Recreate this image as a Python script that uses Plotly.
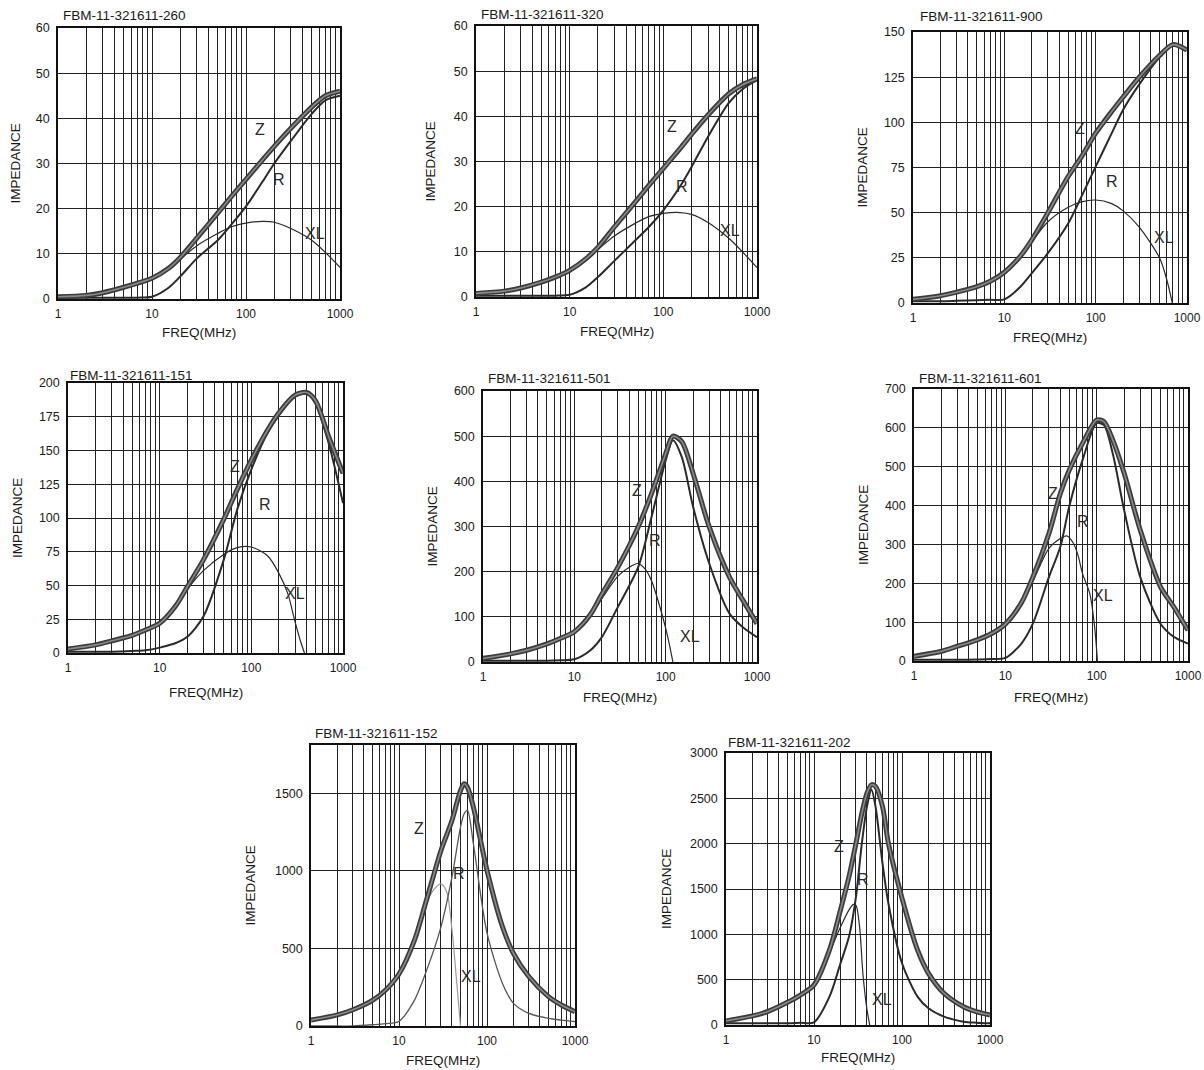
import math
import plotly.graph_objects as go

W, H = 1204, 1070

# ------------------------------------------------------------------ data
TITLES = ["FBM-11-321611-260", "FBM-11-321611-320", "FBM-11-321611-900",
          "FBM-11-321611-151", "FBM-11-321611-501", "FBM-11-321611-601",
          "FBM-11-321611-152", "FBM-11-321611-202"]

# 260
F_260 = [1, 2, 3, 5, 7, 10, 15, 20, 30, 50, 70, 100, 150, 200, 300, 500, 700, 1000]
Z_260 = [0.5, 0.8, 1.4, 2.6, 3.5, 4.6, 6.8, 9.2, 13.5, 19.0, 22.7, 26.5, 30.8, 33.8, 37.8, 42.5, 45.0, 46.0]
R_260 = [0.3, 0.3, 0.3, 0.3, 0.3, 0.5, 2.5, 5.0, 9.0, 13.0, 16.5, 20.5, 26.0, 30.0, 35.0, 41.0, 44.0, 45.0]
FXL_260 = F_260
XL_260 = [0.5, 0.8, 1.4, 2.6, 3.5, 4.5, 6.7, 8.8, 11.8, 14.5, 16.0, 16.8, 17.2, 17.0, 15.6, 13.0, 10.3, 7.0]

# 320
F_320 = [1, 2, 3, 5, 7, 10, 15, 20, 30, 50, 70, 100, 150, 200, 300, 500, 700, 1000]
Z_320 = [0.8, 1.3, 2.0, 3.3, 4.4, 5.9, 8.5, 11.0, 15.5, 21.0, 24.7, 28.5, 32.8, 36.0, 40.3, 45.0, 47.0, 48.3]
R_320 = [0.3, 0.3, 0.3, 0.3, 0.3, 0.5, 2.2, 4.4, 8.0, 12.5, 15.5, 19.2, 24.4, 28.8, 35.5, 43.0, 46.0, 48.0]
FXL_320 = F_320
XL_320 = [0.8, 1.3, 2.0, 3.3, 4.4, 5.8, 8.2, 10.5, 13.5, 16.3, 17.8, 18.5, 18.7, 18.3, 16.5, 13.0, 10.0, 6.5]

# 900
F_900 = [1, 2, 3, 5, 7, 10, 15, 20, 30, 50, 70, 100, 150, 200, 300, 500, 700, 1000]
Z_900 = [2, 4, 6, 9, 12, 17, 26, 35, 50, 70, 81, 94, 106, 114, 125, 137, 143, 140]
R_900 = [1, 1, 1.2, 1.5, 1.8, 2, 9, 16.5, 27.6, 44, 59, 75.5, 94, 107, 121, 136, 143, 140]
FXL_900 = [1, 2, 3, 5, 7, 10, 15, 20, 30, 50, 70, 100, 150, 200, 300, 500, 600, 690]
XL_900 = [2, 4, 6, 9, 12, 17, 26, 34, 45, 53, 56, 57, 55, 51, 42, 25, 13, 0]

# 151
F_151 = [1, 2, 3, 5, 7, 10, 15, 20, 30, 50, 70, 100, 150, 200, 300, 400, 500, 700, 1000]
Z_151 = [3, 6, 9, 13, 17, 22, 35, 49, 69, 99, 121, 143, 165, 178, 191, 193, 187, 160, 133]
R_151 = [1, 1, 1, 1.5, 2, 4, 7.4, 12, 27, 69, 106, 136, 163, 176, 190, 192, 185, 155, 111]
FXL_151 = [1, 2, 3, 5, 7, 10, 15, 20, 30, 50, 70, 100, 150, 200, 250, 300, 350, 380]
XL_151 = [3, 6, 9, 13, 17, 22, 34, 47, 61, 73, 78, 78.5, 72, 59, 44, 23, 7, 0]

# 501
F_501 = [1, 2, 3, 5, 7, 10, 15, 20, 30, 50, 70, 100, 120, 150, 200, 300, 500, 700, 1000]
Z_501 = [8, 18, 26, 40, 52, 67, 105, 150, 210, 299, 373, 461, 500, 488, 417, 299, 188, 137, 85]
R_501 = [3, 3, 3, 3, 4, 6, 26, 55, 122, 210, 321, 446, 491, 454, 343, 218, 107, 77, 55]
FXL_501 = [1, 2, 3, 5, 7, 10, 15, 20, 30, 40, 50, 60, 70, 80, 100, 110, 120]
XL_501 = [8, 18, 26, 40, 52, 66, 100, 140, 190, 210, 218, 205, 180, 145, 75, 38, 0]

# 601
F_601 = [1, 2, 3, 5, 7, 10, 15, 20, 30, 40, 50, 70, 100, 120, 150, 200, 300, 500, 700, 1000]
Z_601 = [12, 25, 38, 55, 70, 95, 150, 216, 328, 431, 491, 560, 620, 616, 569, 483, 337, 191, 139, 79]
R_601 = [3, 3, 3, 4, 5, 8, 45, 96, 216, 294, 397, 517, 612, 607, 534, 388, 216, 96, 62, 45]
FXL_601 = [1, 2, 3, 5, 7, 10, 15, 20, 30, 40, 47, 55, 62, 70, 84, 95, 102]
XL_601 = [12, 25, 38, 55, 70, 94, 150, 205, 290, 315, 322, 305, 275, 225, 174, 88, 0]

# 152
F_152 = [1, 2, 3, 5, 7, 10, 15, 20, 30, 40, 50, 55, 60, 70, 100, 150, 200, 300, 500, 700, 1000]
Z_152 = [38, 72, 105, 165, 230, 335, 553, 789, 1131, 1324, 1517, 1560, 1538, 1410, 1003, 639, 467, 317, 189, 135, 92]
R_152 = [0, 0, 0, 8, 15, 30, 167, 339, 639, 960, 1281, 1367, 1389, 1174, 600, 274, 146, 81, 49, 38, 28]
FXL_152 = [1, 2, 3, 5, 7, 10, 15, 20, 25, 30, 35, 40, 45, 50]
XL_152 = [38, 72, 105, 165, 228, 325, 540, 780, 880, 915, 860, 620, 300, 0]

# 202
F_202 = [1, 2, 3, 5, 7, 10, 15, 20, 25, 30, 35, 40, 45, 50, 60, 70, 100, 150, 200, 300, 500, 700, 1000]
Z_202 = [45, 100, 150, 250, 330, 442, 828, 1270, 1638, 2006, 2337, 2558, 2650, 2632, 2411, 2006, 1400, 828, 570, 350, 202, 147, 110]
R_202 = [20, 20, 20, 20, 25, 30, 313, 681, 975, 1417, 2006, 2411, 2595, 2411, 1785, 1343, 681, 313, 184, 92, 37, 25, 18]
FXL_202 = [1, 2, 3, 5, 7, 10, 15, 20, 25, 28, 30, 33, 36, 40, 43]
XL_202 = [45, 100, 150, 250, 330, 440, 800, 1080, 1270, 1330, 1320, 1080, 560, 170, 0]

Y_TICKS = [
    [0, 10, 20, 30, 40, 50, 60],
    [0, 10, 20, 30, 40, 50, 60],
    [0, 25, 50, 75, 100, 125, 150],
    [0, 25, 50, 75, 100, 125, 150, 175, 200],
    [0, 100, 200, 300, 400, 500, 600],
    [0, 100, 200, 300, 400, 500, 600, 700],
    [0, 500, 1000, 1500],
    [0, 500, 1000, 1500, 2000, 2500, 3000],
]
Y_MAX = [60, 60, 150, 200, 600, 700, 1810, 3000]

X_GRID = [m * 10 ** d for d in range(3) for m in range(1, 10)] + [1000]
X_LABELS = ["1", "10", "100", "1000"]

SERIES = [
    (F_260, Z_260, R_260, FXL_260, XL_260),
    (F_320, Z_320, R_320, FXL_320, XL_320),
    (F_900, Z_900, R_900, FXL_900, XL_900),
    (F_151, Z_151, R_151, FXL_151, XL_151),
    (F_501, Z_501, R_501, FXL_501, XL_501),
    (F_601, Z_601, R_601, FXL_601, XL_601),
    (F_152, Z_152, R_152, FXL_152, XL_152),
    (F_202, Z_202, R_202, FXL_202, XL_202),
]

# ------------------------------------------------------------------ layout (pixels)
BOX = [  # left, right, top, bottom
    (58, 340, 28, 299),
    (476, 757, 26, 297),
    (913, 1187, 32, 303),
    (68, 343, 383, 653),
    (483, 757, 391, 662),
    (914, 1188, 389, 661),
    (311, 575, 745, 1026),
    (726, 990, 753, 1025),
]
TITLE_POS = [(61, 16), (479, 15), (918, 17), (68, 375), (486, 378), (917, 378), (313, 733), (726, 742)]
YTITLE_X = [15, 430, 862, 17, 432, 863, 250, 666]
XTITLE_Y = [333, 332, 337, 692, 697, 697, 1060, 1057]
LABEL_POS = [  # (Z, R, XL) in data coords
    [(140, 37.5), (224, 26.4), (537, 14.6)],
    [(123, 37.7), (157, 24.4), (515, 14.8)],
    [(68, 96.6), (151, 67), (559, 36)],
    [(66, 138), (142, 110), (297, 44)],
    [(49, 380), (77, 269), (186, 57)],
    [(33, 431), (70, 358), (117, 169)],
    [(17, 1271), (48, 981), (65, 317)],
    [(19.2, 1969), (35.7, 1601), (58.7, 276)],
]

FONT = "Liberation Sans, Arial, sans-serif"
INK = "#1a1a1a"

fig = go.Figure()
layout = dict(
    width=W, height=H, margin=dict(l=0, r=0, t=0, b=0),
    paper_bgcolor="white", plot_bgcolor="white", showlegend=False,
    font=dict(family=FONT, size=12, color=INK),
)
annotations = []

for i, (f, z, r, fxl, xl) in enumerate(SERIES):
    n = i + 1
    xa = "x" if n == 1 else f"x{n}"
    ya = "y" if n == 1 else f"y{n}"
    l, rgt, t, b = BOX[i]
    thin_xl = "#9a9a9a" if n == 7 else "#2a2a2a"
    r_col = "#555555" if n == 7 else "#2a2a2a"
    r_w = 1.3 if n == 7 else 2.0
    fig.add_trace(go.Scatter(x=fxl, y=xl, xaxis=xa, yaxis=ya, mode="lines",
                             line=dict(color=thin_xl, width=1.2, shape="spline", smoothing=0.8)))
    fig.add_trace(go.Scatter(x=f, y=r, xaxis=xa, yaxis=ya, mode="lines",
                             line=dict(color=r_col, width=r_w, shape="spline", smoothing=0.8)))
    fig.add_trace(go.Scatter(x=f, y=z, xaxis=xa, yaxis=ya, mode="lines",
                             line=dict(color="#3c3c3c", width=5, shape="spline", smoothing=0.8)))
    fig.add_trace(go.Scatter(x=f, y=z, xaxis=xa, yaxis=ya, mode="lines",
                             line=dict(color="#8a8a8a", width=1.6, shape="spline", smoothing=0.8)))

    xkey = "xaxis" if n == 1 else f"xaxis{n}"
    ykey = "yaxis" if n == 1 else f"yaxis{n}"
    layout[xkey] = dict(
        type="log", range=[0, 3], domain=[l / W, rgt / W], anchor=ya,
        tickvals=X_GRID,
        ticktext=[str(v) if str(v) in X_LABELS else "" for v in X_GRID],
        showgrid=True, gridcolor="#222", gridwidth=1.1,
        showline=True, linecolor="#111", linewidth=1.5, mirror=True,
        ticks="", zeroline=False, automargin=False, ticklabelstandoff=3,
        tickfont=dict(family=FONT, size=12, color=INK),
    )
    yt = Y_TICKS[i]
    layout[ykey] = dict(
        range=[0, Y_MAX[i]], domain=[1 - b / H, 1 - t / H], anchor=xa,
        tickvals=yt, ticktext=[str(v) for v in yt],
        showgrid=True, gridcolor="#222", gridwidth=1.1,
        showline=True, linecolor="#111", linewidth=1.5, mirror=True,
        ticks="", zeroline=False, automargin=False, ticklabelstandoff=4,
        tickfont=dict(family=FONT, size=12.5, color=INK),
    )

    tx, ty = TITLE_POS[i]
    annotations.append(dict(text=TITLES[i], x=tx / W, y=1 - ty / H, xref="paper", yref="paper",
                            xanchor="left", yanchor="middle", showarrow=False,
                            font=dict(family=FONT, size=13.5, color=INK)))
    annotations.append(dict(text="IMPEDANCE", x=YTITLE_X[i] / W, y=1 - (t + b) / 2 / H,
                            xref="paper", yref="paper", textangle=-90,
                            xanchor="center", yanchor="middle", showarrow=False,
                            font=dict(family=FONT, size=13.5, color=INK)))
    annotations.append(dict(text="FREQ(MHz)", x=(l + rgt) / 2 / W, y=1 - XTITLE_Y[i] / H,
                            xref="paper", yref="paper", xanchor="center", yanchor="middle",
                            showarrow=False, font=dict(family=FONT, size=13.5, color=INK)))
    for name, (lx, ly) in zip(["Z", "R", "XL"], LABEL_POS[i]):
        annotations.append(dict(text=name, x=math.log10(lx), y=ly, xref=xa, yref=ya,
                                xanchor="center", yanchor="middle", showarrow=False,
                                font=dict(family=FONT, size=16, color="#2a2a2a")))

layout["annotations"] = annotations
fig.update_layout(**layout)
fig.write_html("out.html", config={"displayModeBar": False},
               post_script="document.body.style.margin='0';document.body.style.overflow='hidden';")
